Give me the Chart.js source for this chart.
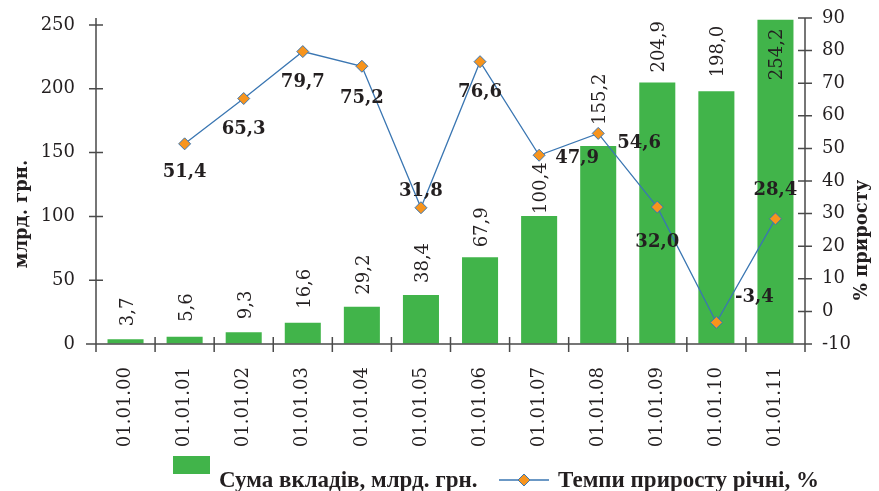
<!DOCTYPE html>
<html>
<head>
<meta charset="utf-8">
<script src="https://cdn.jsdelivr.net/npm/chart.js@4.4.1/dist/chart.umd.min.js"></script>
<style>
html,body{margin:0;padding:0;background:#ffffff;}
#wrap{width:879px;height:491px;position:relative;}
</style>
</head>
<body>
<div id="wrap"><canvas id="c" width="879" height="491"></canvas></div>
<script>
// ---- data ----
const categories = ['01.01.00','01.01.01','01.01.02','01.01.03','01.01.04','01.01.05','01.01.06','01.01.07','01.01.08','01.01.09','01.01.10','01.01.11'];
const depositSums = [3.7, 5.6, 9.3, 16.6, 29.2, 38.4, 67.9, 100.4, 155.2, 204.9, 198.0, 254.2];
const growthRates = [null, 51.4, 65.3, 79.7, 75.2, 31.8, 76.6, 47.9, 54.6, 32.0, -3.4, 28.4];
const leftTickValues = [0, 50, 100, 150, 200, 250];
const rightTickValues = [-10, 0, 10, 20, 30, 40, 50, 60, 70, 80, 90];
const seriesNames = ['Сума вкладів, млрд. грн.', 'Темпи приросту річні, %'];
const axisTitles = ['млрд. грн.', '% приросту'];

// ---- styles ----
const GREEN = '#41b44a';
const BLUE = '#3a76b2';
const ORANGE = '#f7941d';
const INK = '#231f20';
const AXIS = '#4a4a4a';
const SERIF = '"DejaVu Serif", "Liberation Serif", serif';
// label placement (style only): gap above bar top, and [dx,dy] of line labels from their point
const barLabelGap = [13, 15, 13, 14, 12, 12, 10, 2, 21, 10, 14, 12];
const lineLabelShift = [null, [0,27], [0,30], [0,30], [0,31], [0,-17], [0,30], [38,2], [41,9], [0,34], [38,-26], [0,-29]];

const fmt = v => v.toFixed(1).replace('.', ',');

const drawPlugin = {
  id: 'drawExtras',
  afterDatasetsDraw(chart) {
    const ctx = chart.ctx;
    const ca = chart.chartArea;
    const xs = chart.scales.x, yl = chart.scales.yL, yr = chart.scales.yR;
    ctx.save();
    // axes lines and crossing ticks
    ctx.strokeStyle = AXIS;
    ctx.lineWidth = 1.5;
    ctx.beginPath();
    ctx.moveTo(ca.left - 10, ca.bottom); ctx.lineTo(ca.right, ca.bottom);
    ctx.moveTo(ca.left, ca.top); ctx.lineTo(ca.left, ca.bottom + 8);
    ctx.moveTo(ca.right, ca.top); ctx.lineTo(ca.right, ca.bottom + 8);
    leftTickValues.forEach(v => { const y = yl.getPixelForValue(v); ctx.moveTo(ca.left - 7, y); ctx.lineTo(ca.left + 7, y); });
    rightTickValues.forEach(v => { const y = yr.getPixelForValue(v); ctx.moveTo(ca.right - 7, y); ctx.lineTo(ca.right + 7, y); });
    for (let i = 1; i < categories.length; i++) {
      const x = (xs.getPixelForValue(i - 1) + xs.getPixelForValue(i)) / 2;
      ctx.moveTo(x, ca.bottom - 7); ctx.lineTo(x, ca.bottom + 8);
    }
    ctx.stroke();

    // bar value labels (rotated)
    ctx.fillStyle = INK;
    ctx.font = '18px ' + SERIF;
    const barMeta = chart.getDatasetMeta(0);
    barMeta.data.forEach((bar, i) => {
      const txt = fmt(depositSums[i]);
      const w = ctx.measureText(txt).width;
      let yStart = bar.y - barLabelGap[i];
      if (yStart - w < ca.top) { yStart = bar.y + 9 + w; }
      ctx.save();
      ctx.translate(bar.x + 7, yStart);
      ctx.rotate(-Math.PI / 2);
      ctx.textAlign = 'left';
      ctx.textBaseline = 'alphabetic';
      ctx.fillText(txt, 0, 0);
      ctx.restore();
    });

    // line value labels
    ctx.font = 'bold 18px ' + SERIF;
    ctx.textAlign = 'center';
    ctx.textBaseline = 'middle';
    const lineMeta = chart.getDatasetMeta(1);
    lineMeta.data.forEach((pt, i) => {
      if (growthRates[i] === null || !lineLabelShift[i]) return;
      const [dx, dy] = lineLabelShift[i];
      ctx.fillText(fmt(growthRates[i]), pt.x + dx, pt.y + dy + 1);
    });

    // axis titles
    ctx.font = 'bold 18px ' + SERIF;
    ctx.save();
    ctx.translate(22, 214);
    ctx.rotate(-Math.PI / 2);
    ctx.fillText(axisTitles[0], 0, 0);
    ctx.restore();
    ctx.save();
    ctx.translate(862, 240);
    ctx.rotate(-Math.PI / 2);
    ctx.fillText(axisTitles[1], 0, 0);
    ctx.restore();

    // legend
    ctx.fillStyle = GREEN;
    ctx.fillRect(173, 456, 37, 18);
    ctx.fillStyle = INK;
    ctx.font = 'bold 23px "Liberation Serif", serif';
    ctx.textAlign = 'left';
    ctx.textBaseline = 'alphabetic';
    ctx.fillText(seriesNames[0], 219, 487);
    ctx.strokeStyle = BLUE;
    ctx.lineWidth = 1.5;
    ctx.beginPath(); ctx.moveTo(499, 480); ctx.lineTo(549, 480); ctx.stroke();
    ctx.beginPath();
    ctx.moveTo(524, 474); ctx.lineTo(530, 480); ctx.lineTo(524, 486); ctx.lineTo(518, 480); ctx.closePath();
    ctx.fillStyle = ORANGE; ctx.fill();
    ctx.lineWidth = 1; ctx.stroke();
    ctx.fillStyle = INK;
    ctx.fillText(seriesNames[1], 558, 487);
    ctx.restore();
  }
};

const hiddenGrid = (len) => ({ display: true, drawOnChartArea: false, drawTicks: true, tickLength: len, color: 'rgba(0,0,0,0)' });

new Chart(document.getElementById('c'), {
  data: {
    labels: categories,
    datasets: [
      {
        type: 'bar',
        label: seriesNames[0],
        data: depositSums,
        yAxisID: 'yL',
        backgroundColor: GREEN,
        barPercentage: 0.61,
        categoryPercentage: 1.0,
        clip: false,
        order: 2
      },
      {
        type: 'line',
        label: seriesNames[1],
        data: growthRates,
        yAxisID: 'yR',
        borderColor: BLUE,
        borderWidth: 1.3,
        pointStyle: 'rectRot',
        pointRadius: 6,
        pointBackgroundColor: ORANGE,
        pointBorderColor: BLUE,
        pointBorderWidth: 1,
        tension: 0,
        spanGaps: false,
        clip: false,
        order: 1
      }
    ]
  },
  options: {
    responsive: false,
    animation: false,
    devicePixelRatio: 1,
    layout: { padding: { top: 18, left: 0, right: 0, bottom: 0 } },
    plugins: { legend: { display: false }, tooltip: { enabled: false }, title: { display: false } },
    scales: {
      x: {
        type: 'category',
        offset: true,
        grid: { display: false },
        border: { display: false },
        ticks: {
          color: INK,
          font: { family: SERIF, size: 18 },
          minRotation: 90,
          maxRotation: 90,
          autoSkip: false,
          padding: 15
        },
        afterFit(s) { s.height = 147; }
      },
      yL: {
        type: 'linear',
        position: 'left',
        min: 0,
        max: 255.5,
        grid: hiddenGrid(21),
        border: { display: false },
        ticks: { color: INK, font: { family: SERIF, size: 18 }, padding: 0 },
        afterBuildTicks(s) { s.ticks = leftTickValues.map(v => ({ value: v })); },
        afterFit(s) { s.width = 96; }
      },
      yR: {
        type: 'linear',
        position: 'right',
        min: -10,
        max: 90,
        grid: hiddenGrid(17),
        border: { display: false },
        ticks: { color: INK, font: { family: SERIF, size: 18 }, padding: 0 },
        afterBuildTicks(s) { s.ticks = rightTickValues.map(v => ({ value: v })); },
        afterFit(s) { s.width = 74; }
      }
    }
  },
  plugins: [drawPlugin]
});
</script>
</body>
</html>
